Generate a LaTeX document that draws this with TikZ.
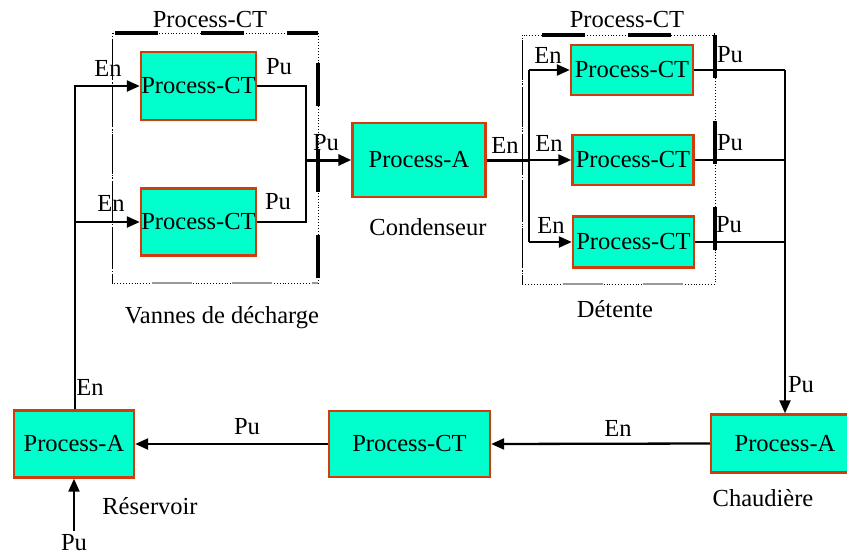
\documentclass[tikz,border=0pt]{standalone}
\usepackage{fontspec}
\setmainfont{Liberation Serif}
\usetikzlibrary{arrows.meta}
\definecolor{boxfill}{RGB}{0,255,204}
\definecolor{boxline}{RGB}{210,60,10}
\tikzset{
  proc/.style={draw=boxline, fill=boxfill, line width=2.4pt, inner sep=0pt, align=center},
  lbl/.style={inner sep=0pt},
  conn/.style={line width=2.3pt, draw=black},
  flow/.style={line width=3pt, draw=black},
  tip/.style={-{Triangle[length=13pt,width=11pt]}},
  grpbase/.style={line width=0.9pt, dotted},
  grpthick/.style={line width=3.2pt, dash pattern=on 43pt off 43pt},
  grpgray/.style={line width=1.4pt, gray!80, dash pattern=on 40pt off 40pt},
  grpleft/.style={line width=0.9pt, dash pattern=on 40pt off 3pt on 1pt off 3pt},
}
\begin{document}
\begin{tikzpicture}[x=1pt,y=-1pt, font=\fontsize{24.5}{27}\selectfont]
\useasboundingbox (0,0) rectangle (847,558);
\clip (0,0) rectangle (847,558);

% ---- group frames
% left group
\coordinate (gl1) at (112,33);
\coordinate (gl2) at (318,283);
\draw[grpbase] (gl1) rectangle (gl2);
\draw[grpthick] (115,33) -- (318,33);
\draw[grpthick] (318,63) -- (318,290);
\draw[grpgray] (152,283) -- (318,283);
\draw[grpleft] (112,40) -- (112,283);
% right group
\coordinate (gr1) at (522,35);
\coordinate (gr2) at (715,284);
\draw[grpbase] (gr1) rectangle (gr2);
\draw[grpthick] (542,35) -- (715,35);
\draw[grpthick] (715,35) -- (715,290);
\draw[grpgray] (563,284) -- (700,284);
\draw[grpleft] (522,40) -- (522,284);

% ---- boxes
\node[proc, minimum width=115pt, minimum height=68pt] (vd1) at (198.5,86) {Process-CT};
\node[proc, minimum width=115pt, minimum height=67pt] (vd2) at (198.5,222) {Process-CT};
\node[proc, minimum width=133pt, minimum height=74pt] (cond) at (419,160) {Process-A};
\node[proc, minimum width=122pt, minimum height=50pt] (d1) at (632,70) {Process-CT};
\node[proc, minimum width=121pt, minimum height=50pt] (d2) at (633,160) {Process-CT};
\node[proc, minimum width=121pt, minimum height=51pt] (d3) at (633.5,242) {Process-CT};
\node[proc, minimum width=148pt, minimum height=58pt] (chaud) at (785,443.5) {Process-A};
\node[proc, minimum width=161pt, minimum height=66pt] (ctb) at (409.5,444) {Process-CT};
\node[proc, minimum width=120pt, minimum height=67pt] (res) at (74,444) {Process-A};

% ---- junction coordinates
\coordinate (jl) at (75,86);
\coordinate (jr) at (306,86);
\coordinate (jm) at (306,160);
\coordinate (jd) at (529,160);
\coordinate (jo) at (785,70);
\coordinate (pin) at (74,531);

% ---- connectors
\draw[conn, tip] (res.north -| jl) -- (jl) -- (vd1.west);
\draw[conn, tip] (jl |- vd2.west) -- (vd2.west);
\draw[conn] (vd1.east) -- (jr) -- (jr |- vd2.east) -- (vd2.east);
\draw[flow, tip] (jm) -- (cond.west);
\draw[flow] (cond.east) -- (jd);
\draw[conn, tip] (jd |- d1.west) -- (d1.west);
\draw[conn, tip] (jd) -- (d2.west);
\draw[conn, tip] (jd |- d3.west) -- (d3.west);
\draw[conn] (jd |- d1.west) -- (jd |- d3.west);
\draw[conn] (d1.east) -- (jo);
\draw[conn] (d2.east) -- (jo |- d2.east);
\draw[conn] (d3.east) -- (jo |- d3.east);
\draw[conn, tip] (jo) -- (chaud.north -| jo);
\draw[conn, tip] (chaud.west) -- (ctb.east);
\draw[conn, tip] (ctb.west) -- (res.east);
\draw[conn, tip] (pin) -- (res.south);

% ---- labels
\node[lbl] (tl) at (210,20) {Process-CT};
\node[lbl] (tr) at (627,20) {Process-CT};
\node[lbl] (en1) at (108,68) {En};
\node[lbl] (en2) at (111,203) {En};
\node[lbl] (pu1) at (279,67) {Pu};
\node[lbl] (pu2) at (278,202) {Pu};
\node[lbl] (pu3) at (326,143) {Pu};
\node[lbl] (en3) at (505,145) {En};
\node[lbl] (en4) at (548,55) {En};
\node[lbl] (en5) at (549,143) {En};
\node[lbl] (en6) at (551,225) {En};
\node[lbl] (pu4) at (730,55) {Pu};
\node[lbl] (pu5) at (730,143) {Pu};
\node[lbl] (pu6) at (729,225) {Pu};
\node[lbl] (pu7) at (801,385) {Pu};
\node[lbl] (en7) at (618,428) {En};
\node[lbl] (pu8) at (247,427) {Pu};
\node[lbl] (en8) at (90,387) {En};
\node[lbl] (pu9) at (74,543) {Pu};
\node[lbl] (lres) at (150,506) {Réservoir};
\node[lbl] (lvd) at (222,318) {Vannes de décharge};
\node[lbl] (ldt) at (615,309) {Détente};
\node[lbl] (lcond) at (428,227) {Condenseur};
\node[lbl] (lchaud) at (763,498) {Chaudière};
\end{tikzpicture}
\end{document}
